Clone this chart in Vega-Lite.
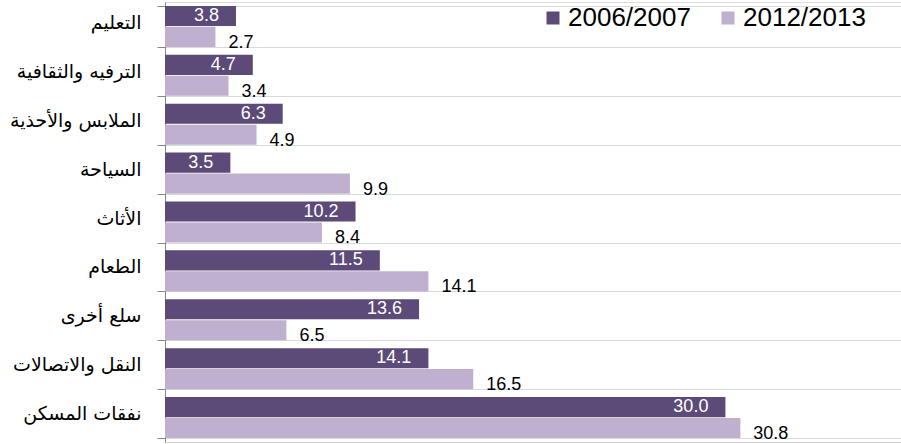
{
  "$schema": "https://vega.github.io/schema/vega-lite/v6.json",
  "width": 736,
  "height": 440,
  "autosize": {"type": "none"},
  "padding": {"left": 165, "top": 2, "right": 0, "bottom": 2},
  "background": "white",
  "data": {"values": [
    {"cat": "التعليم", "series": "2006/2007", "v": 3.8},
    {"cat": "التعليم", "series": "2012/2013", "v": 2.7},
    {"cat": "الترفيه والثقافية", "series": "2006/2007", "v": 4.7},
    {"cat": "الترفيه والثقافية", "series": "2012/2013", "v": 3.4},
    {"cat": "الملابس والأحذية", "series": "2006/2007", "v": 6.3},
    {"cat": "الملابس والأحذية", "series": "2012/2013", "v": 4.9},
    {"cat": "السياحة", "series": "2006/2007", "v": 3.5},
    {"cat": "السياحة", "series": "2012/2013", "v": 9.9},
    {"cat": "الأثاث", "series": "2006/2007", "v": 10.2},
    {"cat": "الأثاث", "series": "2012/2013", "v": 8.4},
    {"cat": "الطعام", "series": "2006/2007", "v": 11.5},
    {"cat": "الطعام", "series": "2012/2013", "v": 14.1},
    {"cat": "سلع  أخرى", "series": "2006/2007", "v": 13.6},
    {"cat": "سلع  أخرى", "series": "2012/2013", "v": 6.5},
    {"cat": "النقل والاتصالات", "series": "2006/2007", "v": 14.1},
    {"cat": "النقل والاتصالات", "series": "2012/2013", "v": 16.5},
    {"cat": "نفقات المسكن", "series": "2006/2007", "v": 30.0},
    {"cat": "نفقات المسكن", "series": "2012/2013", "v": 30.8}
  ]},
  "encoding": {
    "y": {
      "field": "cat", "type": "nominal", "sort": null, "title": null,
      "scale": {"paddingInner": 0.16, "paddingOuter": 0.08},
      "axis": {
        "tickBand": "extent", "grid": true, "gridColor": "#d9d9d9",
        "domainColor": "#868686", "tickColor": "#868686", "tickSize": 8,
        "labelFont": "DejaVu Sans", "labelFontSize": 19, "labelColor": "#000000",
        "labelPadding": 16, "labelOffset": -4
      }
    },
    "yOffset": {"field": "series", "type": "nominal", "scale": {"paddingInner": 0.04}},
    "x": {
      "field": "v", "type": "quantitative", "title": null,
      "scale": {"domain": [0, 39.4], "nice": false, "zero": true},
      "axis": {"labels": false, "ticks": false, "grid": false, "domainColor": "#d0d0d0", "title": null}
    }
  },
  "layer": [
    {
      "mark": {"type": "bar"},
      "encoding": {
        "color": {
          "field": "series", "type": "nominal", "title": null,
          "scale": {"domain": ["2006/2007", "2012/2013"], "range": ["#5c4a78", "#c0b0cf"]},
          "legend": {
            "orient": "none", "legendX": 375, "legendY": 3, "direction": "horizontal",
            "padding": 0,
            "symbolType": "square", "symbolSize": 169, "symbolStrokeWidth": 0,
            "labelFont": "Liberation Sans", "labelFontSize": 26, "labelColor": "#000000",
            "columnPadding": 24, "symbolOffset": 0, "labelOffset": 2
          }
        }
      }
    },
    {
      "transform": [{"filter": "datum.series == '2006/2007'"}],
      "mark": {"type": "text", "align": "right", "dx": -17, "dy": 0, "color": "white", "font": "Liberation Sans", "fontSize": 18, "baseline": "middle"},
      "encoding": {"text": {"field": "v", "type": "quantitative", "format": ".1f"}}
    },
    {
      "transform": [{"filter": "datum.series == '2012/2013'"}],
      "mark": {"type": "text", "align": "left", "dx": 13, "dy": 6, "color": "black", "font": "Liberation Sans", "fontSize": 18, "baseline": "middle"},
      "encoding": {"text": {"field": "v", "type": "quantitative", "format": ".1f"}}
    }
  ]
}
